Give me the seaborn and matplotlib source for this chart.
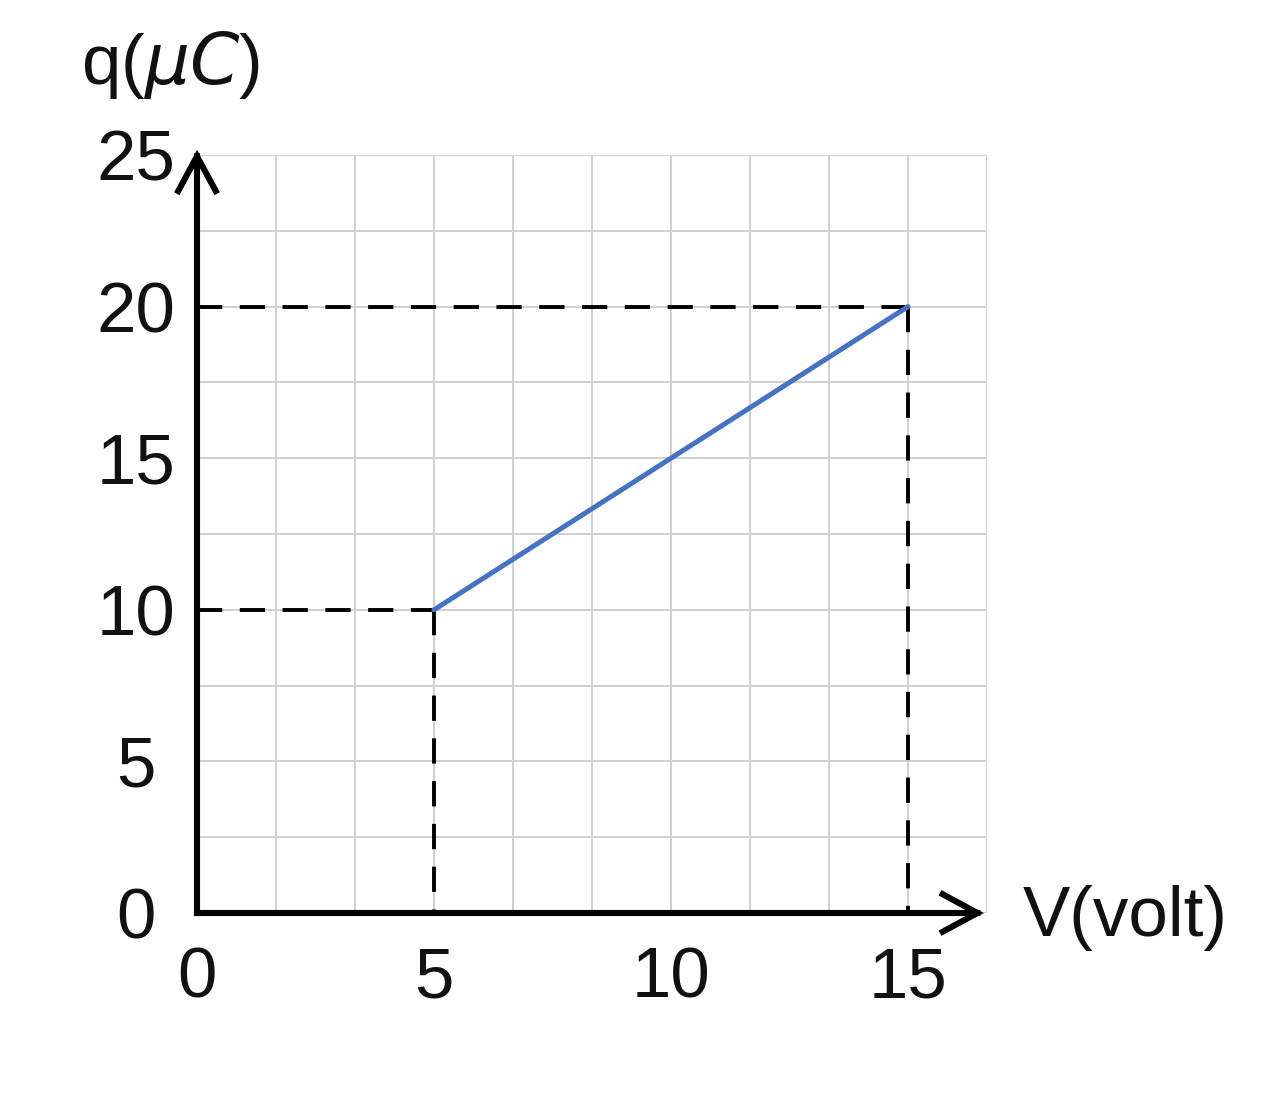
import numpy as np
import pandas as pd
import matplotlib
matplotlib.use("Agg")
import matplotlib.pyplot as plt
from matplotlib.ticker import MultipleLocator
import seaborn as sns

# Data
v_line = [5, 15]
q_line = [10, 20]
x_ticks = [0, 5, 10, 15]
x_tick_labels = ["0", "5", "10", "15"]
y_ticks = [0, 5, 10, 15, 20, 25]
y_tick_labels = ["0", "5", "10", "15", "20", "25"]
guide_points_v = [5, 15]
guide_points_q = [10, 20]

sns.set_theme(style="white")
plt.rcParams["font.family"] = ["Liberation Sans", "DejaVu Sans"]

W, H = 1280, 1103
fig = plt.figure(figsize=(W / 100, H / 100), dpi=100)
x0, x1 = 197, 987
y0, y1 = 913, 155
ax = fig.add_axes([x0 / W, (H - y0) / H, (x1 - x0) / W, (y0 - y1) / H])
ax.set_xlim(0, 50 / 3)
ax.set_ylim(0, 25)

# grid
ax.xaxis.remove_overlapping_locs = False
ax.yaxis.remove_overlapping_locs = False
ax.xaxis.set_minor_locator(MultipleLocator(5 / 3))
ax.yaxis.set_minor_locator(MultipleLocator(2.5))
ax.grid(which="minor", color="#d0d0d0", lw=1.4)
ax.grid(which="major", visible=False)
ax.set_axisbelow(True)
for s in ax.spines.values():
    s.set_visible(False)

# dashed guide lines
for gv, gq in zip(guide_points_v, guide_points_q):
    ax.plot([0, gv], [gq, gq], color="black", lw=2.8, dashes=[6.5, 4.5], zorder=3)
    ax.plot([gv, gv], [gq, 0], color="black", lw=2.8, dashes=[6.5, 4.5], zorder=3)

# main line
df = pd.DataFrame({"V": v_line, "q": q_line})
sns.lineplot(data=df, x="V", y="q", ax=ax, color="#4472C4", lw=3.6, zorder=4)

# axes arrows
ap = dict(arrowstyle="->,head_length=0.5,head_width=0.27", lw=4.4, color="black",
          shrinkA=0, shrinkB=0, mutation_scale=50, capstyle="projecting", joinstyle="miter")
ax.annotate("", xy=(0, 25.17), xytext=(0, 0), arrowprops=ap, annotation_clip=False, zorder=5)
ax.annotate("", xy=(16.6, 0), xytext=(0, 0), arrowprops=ap, annotation_clip=False, zorder=5)

# ticks
ax.set_xticks(x_ticks, x_tick_labels)
ax.set_yticks(y_ticks, y_tick_labels)
ax.tick_params(axis="both", which="both", length=0, labelsize=51, colors="#111111")
ax.tick_params(axis="x", pad=24)
ax.tick_params(axis="y", pad=44)
for lab in ax.get_yticklabels():
    lab.set_horizontalalignment("center")

ax.set_xlabel("V(volt)", fontsize=51, color="#111111", va="center", ha="center")
ax.xaxis.set_label_coords((1125 - x0) / (x1 - x0), (y0 - 918) / (y0 - y1))
ax.set_ylabel("q($\\mu C$)", fontsize=51, color="#111111", rotation=0, va="center", ha="center")
ax.yaxis.set_label_coords((170 - x0) / (x1 - x0), (y0 - 65) / (y0 - y1))

fig.savefig("out.png", dpi=100)
